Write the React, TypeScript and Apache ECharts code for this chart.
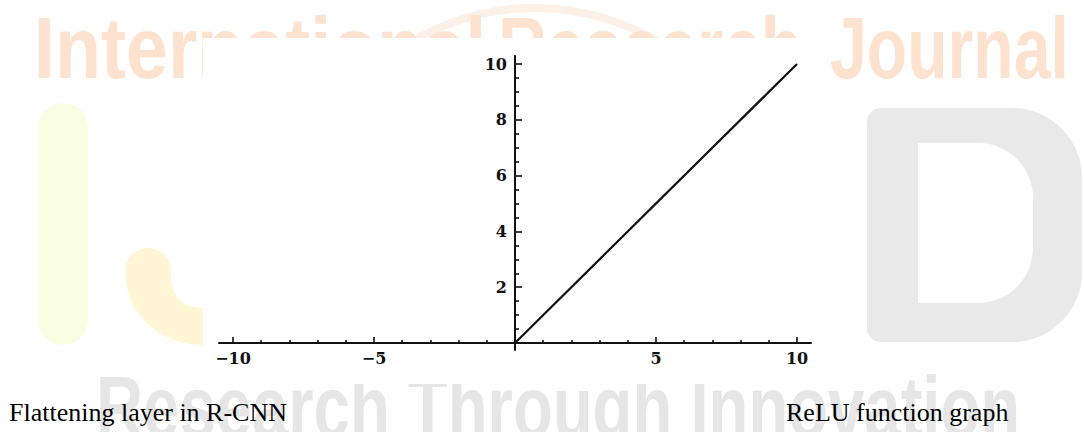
import React, { useEffect, useRef } from "react";
import * as echarts from "echarts";

// ---------------- data ----------------
const reluX = [-10, 0, 10];
const reluY = [0, 0, 10];
const xLabelledTicks = [-10, -5, 5, 10];
const yLabelledTicks = [2, 4, 6, 8, 10];
const captionLeft = "Flattening layer in R-CNN";
const captionRight = "ReLU function graph";
const watermarkTopWords = ["International", "Research", "Journal"];
const watermarkBottomText = "Research Through Innovation";

// ---------------- styling / layout ----------------
const AXIS_COLOR = "#111111";
const PLOT_LEFT = 233;
const PLOT_TOP = 64;
const PLOT_W = 564;
const PLOT_H = 279;
const X_MIN = -10;
const X_MAX = 10;
const Y_MIN = 0;
const Y_MAX = 10;
const PX_PER_X = PLOT_W / (X_MAX - X_MIN);
const PX_PER_Y = PLOT_H / (Y_MAX - Y_MIN);
// axis lines overhang beyond the tick range (pixels)
const X_OVER = 14;
const Y_OVER_TOP = 8;
const Y_OVER_BOTTOM = 7;
// the y axis sits at x = 0
const Y_AXIS_OFFSET = -(0 - X_MIN) * PX_PER_X;

const HOOK_PATH =
  "M125 271 A23 23 0 0 1 171 271 L171 281 Q175 308 203 308 L203 345 C158 345 125 312 125 271 Z";
let shapesRegistered = false;
function registerShapes() {
  if (shapesRegistered) return;
  echarts.graphic.registerShape("wmHook", echarts.graphic.extendPath(HOOK_PATH, {}));
  shapesRegistered = true;
}

const labelFont = {
  fontFamily: '"DejaVu Serif", serif',
  fontWeight: "bold" as const,
  fontSize: 16,
  color: AXIS_COLOR,
};

function fmtNum(v: number) {
  return v < 0 ? "\u2212" + Math.abs(v) : String(v);
}

export default function App() {
  const ref = useRef<HTMLDivElement>(null);

  useEffect(() => {
    if (!ref.current) return;
    registerShapes();
    const chart = echarts.init(ref.current, undefined, { renderer: "svg" });

    const wmFont = 'bold 87px "Liberation Sans", Arial, sans-serif';
    const wmTopColor = "#fde2cf";
    const wmGray = "#e6e6e6";
    const topXs = [34, 498, 830];
    const topScales = [0.866, 0.776, 0.76];

    const option: any = {
      animation: false,
      backgroundColor: "#ffffff",
      grid: [
        { left: PLOT_LEFT, top: PLOT_TOP, width: PLOT_W, height: PLOT_H },
        {
          left: PLOT_LEFT - X_OVER,
          top: PLOT_TOP - Y_OVER_TOP,
          width: PLOT_W + 2 * X_OVER,
          height: PLOT_H + Y_OVER_TOP + Y_OVER_BOTTOM,
        },
      ],
      xAxis: [
        {
          type: "value",
          gridIndex: 0,
          min: X_MIN,
          max: X_MAX,
          interval: 5,
          position: "bottom",
          axisLine: { show: true, onZero: false, lineStyle: { color: AXIS_COLOR, width: 2 } },
          axisTick: { show: true, inside: true, length: 6, lineStyle: { color: AXIS_COLOR, width: 1.6 } },
          minorTick: { show: true, splitNumber: 5, length: 3, lineStyle: { color: AXIS_COLOR, width: 1.6 } },
          splitLine: { show: false },
          minorSplitLine: { show: false },
          axisLabel: {
            ...labelFont,
            margin: 7,
            showMinLabel: true,
            showMaxLabel: true,
            formatter: (v: number) => (xLabelledTicks.includes(v) ? fmtNum(v) : ""),
          },
        },
        {
          type: "value",
          gridIndex: 1,
          min: X_MIN - X_OVER / PX_PER_X,
          max: X_MAX + X_OVER / PX_PER_X,
          axisLine: { show: true, onZero: true, lineStyle: { color: AXIS_COLOR, width: 2 } },
          axisTick: { show: false },
          axisLabel: { show: false },
          splitLine: { show: false },
        },
      ],
      yAxis: [
        {
          type: "value",
          gridIndex: 0,
          min: Y_MIN,
          max: Y_MAX,
          interval: 2,
          position: "left",
          offset: Y_AXIS_OFFSET,
          axisLine: { show: true, onZero: false, lineStyle: { color: AXIS_COLOR, width: 2 } },
          axisTick: { show: true, inside: true, length: 7, lineStyle: { color: AXIS_COLOR, width: 1.6 } },
          minorTick: { show: true, splitNumber: 4, length: 4, lineStyle: { color: AXIS_COLOR, width: 1.6 } },
          splitLine: { show: false },
          minorSplitLine: { show: false },
          axisLabel: {
            ...labelFont,
            margin: 8,
            showMinLabel: true,
            showMaxLabel: true,
            formatter: (v: number) => (yLabelledTicks.includes(v) ? fmtNum(v) : ""),
          },
        },
        {
          type: "value",
          gridIndex: 1,
          min: Y_MIN - Y_OVER_BOTTOM / PX_PER_Y,
          max: Y_MAX + Y_OVER_TOP / PX_PER_Y,
          axisLine: { show: true, onZero: true, lineStyle: { color: AXIS_COLOR, width: 2 } },
          axisTick: { show: false },
          axisLabel: { show: false },
          splitLine: { show: false },
        },
      ],
      series: [
        {
          type: "line",
          xAxisIndex: 0,
          yAxisIndex: 0,
          data: reluX.map((x, i) => [x, reluY[i]]),
          showSymbol: false,
          symbol: "none",
          silent: true,
          z: 3,
          lineStyle: { color: "#111111", width: 2.2 },
        },
      ],
      graphic: {
        elements: [
          // faint logo arc at the top
          {
            type: "arc",
            z: -10,
            shape: {
              cx: 535,
              cy: 250,
              r: 242,
              startAngle: -Math.PI / 2 - 0.65,
              endAngle: -Math.PI / 2 + 0.65,
              clockwise: true,
            },
            style: { stroke: "#fdf0e6", lineWidth: 8, fill: "none" },
          },
          // top watermark words
          ...watermarkTopWords.map((w, i) => ({
            type: "text",
            z: -10,
            x: topXs[i],
            y: 47.5,
            scaleX: topScales[i],
            style: { text: w, font: wmFont, fill: wmTopColor, align: "left", verticalAlign: "middle" },
          })),
          // left pill
          {
            type: "rect",
            z: -10,
            shape: { x: 38, y: 103, width: 50, height: 242, r: 25 },
            style: { fill: "#f9fde2" },
          },
          // left hook
          {
            type: "wmHook",
            z: -10,
            x: 0,
            y: 0,
            style: { fill: "#fff6d5" },
          },
          // right "D"
          {
            type: "rect",
            z: -10,
            shape: { x: 867, y: 108, width: 215, height: 234, r: [14, 70, 70, 14] },
            style: { fill: "#e9e9e9" },
          },
          {
            type: "rect",
            z: -9,
            shape: { x: 918, y: 143, width: 115, height: 160, r: [0, 55, 55, 0] },
            style: { fill: "#ffffff" },
          },
          // bottom watermark
          {
            type: "text",
            z: -10,
            x: 96,
            y: 406,
            scaleX: 0.75,
            style: { text: watermarkBottomText, font: wmFont, fill: wmGray, align: "left", verticalAlign: "middle" },
          },
          // white plot image background
          {
            type: "rect",
            z: -5,
            shape: { x: 203, y: 38, width: 611, height: 346 },
            style: { fill: "#ffffff" },
          },
          // captions
          {
            type: "text",
            z: 10,
            x: 9,
            y: 412,
            style: {
              text: captionLeft,
              font: '26px "Liberation Serif", "Times New Roman", serif',
              fill: "#000000",
              align: "left",
              verticalAlign: "middle",
            },
          },
          {
            type: "text",
            z: 10,
            x: 786,
            y: 412,
            style: {
              text: captionRight,
              font: '26px "Liberation Serif", "Times New Roman", serif',
              fill: "#000000",
              align: "left",
              verticalAlign: "middle",
            },
          },
        ],
      },
    };

    chart.setOption(option);
    return () => {
      chart.dispose();
    };
  }, []);

  return (
    <div
      ref={ref}
      style={{ position: "fixed", left: 0, top: 0, width: 1084, height: 432, background: "#fff" }}
    />
  );
}
